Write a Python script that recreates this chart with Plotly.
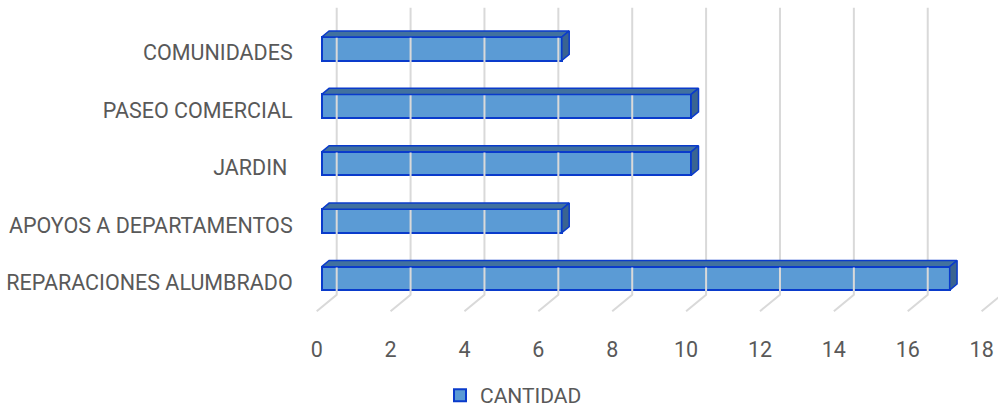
import plotly.graph_objects as go

# ---------------- data ----------------
categories = ["REPARACIONES ALUMBRADO", "APOYOS A DEPARTAMENTOS", "JARDIN\u00a0",
              "PASEO COMERCIAL", "COMUNIDADES"]
values = [17, 6.5, 10, 10, 6.5]
tick_values = [0, 2, 4, 6, 8, 10, 12, 14, 16, 18]
series_name = "CANTIDAD"

# ---------------- styling / geometry ----------------
W, H = 998, 409
PX_X = 36.94          # pixels per x unit
PX_Y = 57.4           # pixels per category
X0_PX = 316.7         # pixel of x=0 on front plane
Y0_PX = 282.5         # pixel of first category centre on front plane
DEPTH_PX = (20.0, 16.5)
DX = DEPTH_PX[0] / PX_X
DY = DEPTH_PX[1] / PX_Y
BAR_POS = 0.25        # bar front face position inside depth
BAR_DEPTH = 0.37      # bar thickness as fraction of depth
BAR_W = 23.5 / PX_Y

FRONT = "#5B9BD5"
TOP = "#41719F"
SIDE = "#3A6491"
EDGE = "#0A3BCB"
GRID = "#D9D9D9"
TXT = "#595959"
FONT = "Roboto"

dom_left_px, dom_right_px = 306, W
dom_top_px, dom_bot_px = 5, 314
x_range = [(dom_left_px - X0_PX) / PX_X, (dom_right_px - X0_PX) / PX_X]
y_range = [(Y0_PX - dom_bot_px) / PX_Y, (Y0_PX - dom_top_px) / PX_Y]

n = len(categories)
fig = go.Figure()

# gridlines: floor diagonal + back wall vertical
gx, gy = [], []
for v in tick_values:
    gx += [v, v + DX, v + DX, None]
    gy += [-0.5, -0.5 + DY, n - 0.5 + DY, None]
fig.add_trace(go.Scatter(x=gx, y=gy, mode="lines", line=dict(color=GRID, width=2),
                         showlegend=False, hoverinfo="skip"))

base = BAR_POS * DX
yoff = BAR_POS * DY
bdx = BAR_DEPTH * DX
bdy = BAR_DEPTH * DY

# top and side faces
for i, v in enumerate(values):
    yc = i + yoff
    yt, yb = yc + BAR_W / 2, yc - BAR_W / 2
    x0, x1 = base, base + v
    fig.add_trace(go.Scatter(
        x=[x0, x1, x1 + bdx, x0 + bdx, x0], y=[yt, yt, yt + bdy, yt + bdy, yt],
        mode="lines", fill="toself", fillcolor=TOP, line=dict(color=EDGE, width=1.5),
        showlegend=False, hoverinfo="skip"))
    fig.add_trace(go.Scatter(
        x=[x1, x1 + bdx, x1 + bdx, x1, x1], y=[yb, yb + bdy, yt + bdy, yt, yb],
        mode="lines", fill="toself", fillcolor=SIDE, line=dict(color=EDGE, width=1.5),
        showlegend=False, hoverinfo="skip"))

# front faces
fig.add_trace(go.Bar(
    x=values, y=[i + yoff for i in range(n)], base=base, width=BAR_W,
    orientation="h", name=series_name,
    marker=dict(color=FRONT, line=dict(color=EDGE, width=2))))

fig.update_layout(
    width=W, height=H, margin=dict(l=0, r=0, t=0, b=0, autoexpand=False),
    paper_bgcolor="white", plot_bgcolor="white",
    font=dict(family=FONT, size=21.5, color=TXT),
    showlegend=True,
    legend=dict(orientation="h", x=440 / W, xanchor="left",
                y=(H - 395.5) / H, yanchor="middle",
                font=dict(size=21, color=TXT)),
    xaxis=dict(domain=[dom_left_px / W, dom_right_px / W], range=x_range,
               tickvals=tick_values, ticktext=[str(t) for t in tick_values],
               showgrid=False, zeroline=False, showline=False,
               ticks="outside", ticklen=16, tickcolor="rgba(0,0,0,0)",
               automargin=False),
    yaxis=dict(domain=[(H - dom_bot_px) / H, (H - dom_top_px) / H], range=y_range,
               tickvals=list(range(n)), ticktext=categories,
               showgrid=False, zeroline=False, showline=False,
               ticks="outside", ticklen=8, tickcolor="rgba(0,0,0,0)",
               automargin=False),
    bargap=0,
)

fig.write_html("out.html",
               config={"displayModeBar": False},
               post_script="document.body.style.margin='0';"
                           "document.body.style.overflow='hidden';")
